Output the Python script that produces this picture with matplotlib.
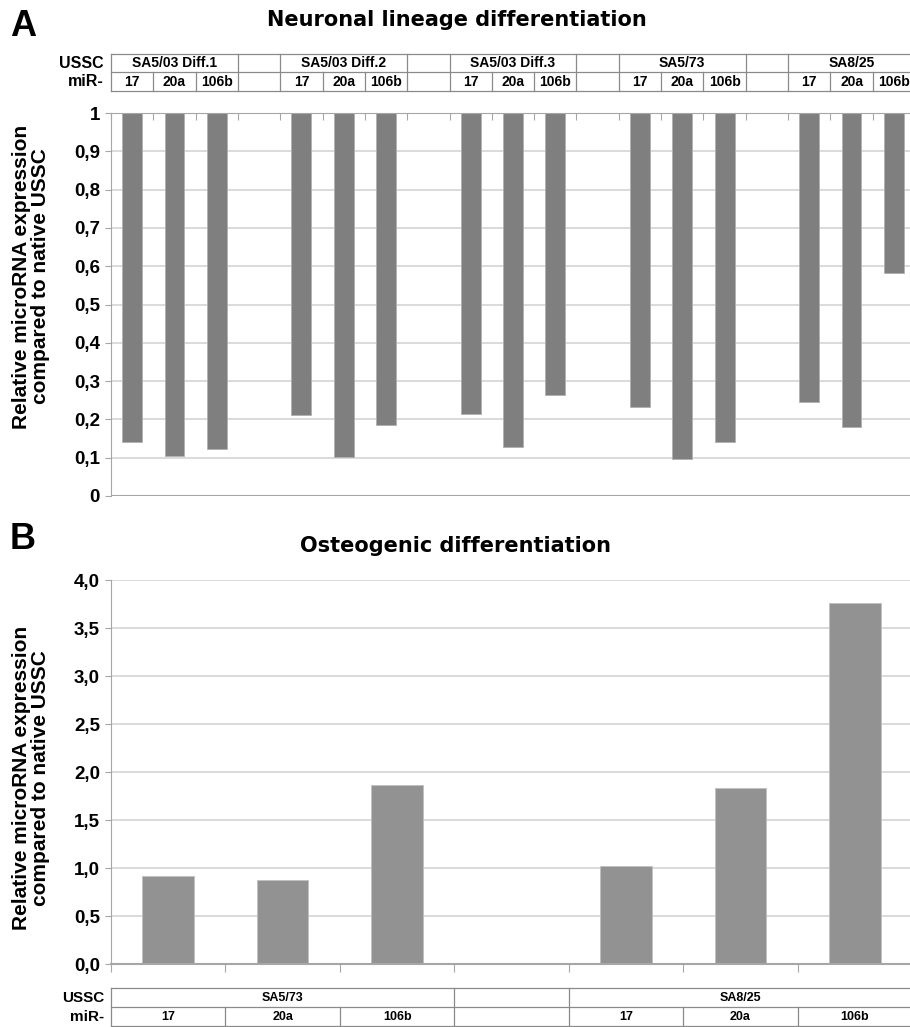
import matplotlib
matplotlib.use("Agg")
import matplotlib.pyplot as plt
import matplotlib.transforms as mtrans
from matplotlib.ticker import FuncFormatter, MultipleLocator

# data
mirs = ["17", "20a", "106b"]
groups_a = ["SA5/03 Diff.1", "SA5/03 Diff.2", "SA5/03 Diff.3", "SA5/73", "SA8/25"]
vals_a = [
    [0.142, 0.104, 0.122],
    [0.211, 0.103, 0.185],
    [0.214, 0.128, 0.265],
    [0.233, 0.097, 0.140],
    [0.245, 0.179, 0.582],
]
groups_b = ["SA5/73", "SA8/25"]
vals_b = [
    [0.917, 0.875, 1.86],
    [1.02, 1.83, 3.76],
]

ylabel = "Relative microRNA expression\ncompared to native USSC"
GRID = "#d4d4d4"
SPINE = "#a6a6a6"
FONT = ["Liberation Sans", "DejaVu Sans"]

plt.rcParams["font.family"] = FONT
plt.rcParams["font.weight"] = "bold"

fig = plt.figure(figsize=(9.10, 10.27), dpi=100)
W, H = 910.0, 1027.0


def px_axes(l, t, r, b):
    return fig.add_axes([l / W, 1 - b / H, (r - l) / W, (b - t) / H])


def style(ax, label_y):
    for s in ["top", "right"]:
        ax.spines[s].set_visible(False)
    ax.spines["left"].set_color(SPINE)
    ax.spines["bottom"].set_color(SPINE)
    ax.set_axisbelow(True)
    ax.yaxis.grid(True, color=GRID, lw=1.2)
    ax.tick_params(axis="y", length=4, color=SPINE, labelsize=13.5, pad=4)
    ax.set_ylabel(ylabel, fontsize=15, fontweight="bold", linespacing=1.0)
    w = ax.get_position().width * W
    ax.yaxis.set_label_coords(-61 / w, label_y)


def table(ax, groups, slots_per_group, y_top, y_mid, y_bot, fs, lfs, label_x):
    tr = mtrans.blended_transform_factory(ax.transData, ax.transAxes)
    n = len(groups)
    total = n * slots_per_group + (n - 1)
    x0, x1 = -0.5, -0.5 + total
    kw = dict(transform=tr, clip_on=False, color="#8a8a8a", lw=0.9)
    ax.plot([x0, x1 + 2], [y_top, y_top], **kw)
    ax.plot([x0, x1 + 2], [y_mid, y_mid], **kw)
    ax.plot([x0, x1 + 2], [y_bot, y_bot], **kw)
    ax.plot([x0, x0], [y_top, y_bot], **kw)
    for i, g in enumerate(groups):
        start = -0.5 + i * (slots_per_group + 1)
        end = start + slots_per_group
        ax.text((start + end) / 2, (y_top + y_mid) / 2, g, transform=tr, ha="center",
                va="center", fontsize=fs, fontweight="bold")
        ax.plot([end, end], [y_top, y_bot], **kw)
        if i < n - 1:
            ax.plot([end + 1, end + 1], [y_top, y_bot], **kw)
        for j, m in enumerate(mirs):
            ax.text(start + j + 0.5, (y_mid + y_bot) / 2, m, transform=tr, ha="center",
                    va="center", fontsize=fs, fontweight="bold")
            if j > 0:
                ax.plot([start + j, start + j], [y_mid, y_bot], **kw)
    ax.text(label_x, (y_top + y_mid) / 2, "USSC", transform=tr, ha="right", va="center",
            fontsize=lfs, fontweight="bold")
    ax.text(label_x, (y_mid + y_bot) / 2, "miR-", transform=tr, ha="right", va="center",
            fontsize=lfs, fontweight="bold")


# ---- Panel A ----
axA = px_axes(111, 113, 915, 496)
pos_a, hts_a = [], []
for i, row in enumerate(vals_a):
    for j, v in enumerate(row):
        pos_a.append(i * 4 + j)
        hts_a.append(v)
axA.bar(pos_a, [h - 1 for h in hts_a], bottom=1, width=0.47, color="#7f7f7f",
        edgecolor="#b0b0b0", linewidth=0.6)
axA.set_xlim(-0.5, 18.5)
axA.set_ylim(0, 1)
axA.yaxis.set_major_locator(MultipleLocator(0.1))
axA.yaxis.set_major_formatter(FuncFormatter(lambda v, p: ("%g" % round(v, 1)).replace(".", ",")))
style(axA, 0.573)
axA.spines["bottom"].set_visible(False)
axA.spines["top"].set_visible(True)
axA.spines["top"].set_color(SPINE)
axA.xaxis.tick_top()
axA.set_xticks([k - 0.5 for k in range(0, 20)])
axA.tick_params(axis="x", direction="in", length=5, color=SPINE, labeltop=False, labelbottom=False)
axA.axhline(0, color=SPINE, lw=1.5, zorder=3)
table(axA, groups_a, 3, 1.154, 1.107, 1.057, 10, 11.5, -0.68)
axA.set_title("Neuronal lineage differentiation", family="DejaVu Sans", fontsize=15,
              fontweight="bold", x=0.43, y=1.205)

# ---- Panel B ----
axB = px_axes(111, 580, 912, 964)
pos_b, hts_b = [], []
for i, row in enumerate(vals_b):
    for j, v in enumerate(row):
        pos_b.append(i * 4 + j)
        hts_b.append(v)
axB.bar(pos_b, hts_b, width=0.45, color="#929292", edgecolor="#c0c0c0", linewidth=0.6)
axB.set_xlim(-0.5, 6.5)
axB.set_ylim(0, 4)
axB.yaxis.set_major_locator(MultipleLocator(0.5))
axB.yaxis.set_major_formatter(FuncFormatter(lambda v, p: ("%.1f" % v).replace(".", ",")))
style(axB, 0.484)
axB.set_xticks([k - 0.5 for k in range(0, 8)])
axB.tick_params(axis="x", direction="out", length=6, color=SPINE, labelbottom=False)
axB.spines["bottom"].set_linewidth(1.5)
table(axB, groups_b, 3, -0.0625, -0.112, -0.1615, 9, 11, -0.56)
axB.set_title("Osteogenic differentiation", family="DejaVu Sans", fontsize=15,
              fontweight="bold", x=0.43, y=1.05)

fig.text(10 / W, 1 - 36 / H, "A", fontsize=26, fontweight="bold", va="baseline")
fig.text(10 / W, 1 - 549 / H, "B", fontsize=26, fontweight="bold", va="baseline")

fig.savefig("out.png", dpi=100)
